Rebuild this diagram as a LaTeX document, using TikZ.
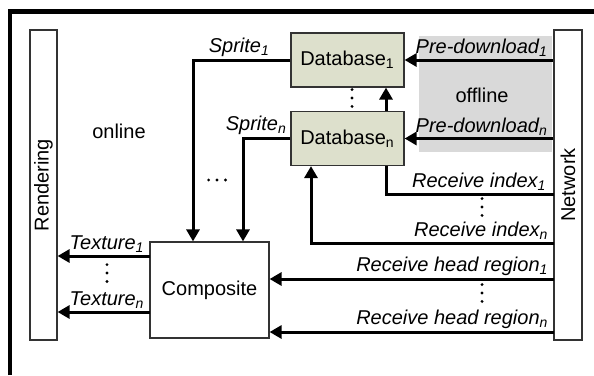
\documentclass[tikz,border=0pt]{standalone}
\usepackage{fontspec}
\setmainfont{Liberation Sans}
\usetikzlibrary{positioning,arrows.meta}
\definecolor{dbfill}{RGB}{221,224,204}
\definecolor{offgray}{RGB}{217,217,217}
\tikzset{
  box/.style={draw=black!80, line width=0.6pt, inner sep=0pt},
  dbbox/.style={box, fill=dbfill, minimum width=56.5pt, minimum height=27pt},
  flow/.style={line width=1.5pt, -{Triangle[length=6pt,width=6.5pt]}},
  wire/.style={line width=1.5pt},
  lbl/.style={font=\itshape, inner sep=1pt, anchor=south east},
}
\begin{document}
\begin{tikzpicture}[x=0.5pt,y=-0.5pt]
  \useasboundingbox (0,0) rectangle (594,375);

  % frame
  \draw[line width=2.2pt] (9.7,375) |- (594,11.3);

  % offline area
  \fill[offgray] (419,36) rectangle (552,152);
  \node (offline) at (482,95) {offline};
  \node (online) at (119,131) {online};

  % side blocks
  \node[box, minimum width=13.5pt, minimum height=155pt] (render) at (43.5,185) {};
  \node[rotate=90] (rendertxt) at (render.center) {Rendering};
  \node[box, minimum width=14pt, minimum height=155pt] (net) at (568,185) {};
  \node[rotate=90] (nettxt) at (net.center) {Network};

  % databases and composite
  \node[dbbox] (db1) at (347.5,60) {Database\textsubscript{1}};
  \node[dbbox] (dbn) at (347.5,138.5) {Database\textsubscript{n}};
  \node[box, minimum width=59.5pt, minimum height=48pt] (comp) at (209.5,290) {Composite};

  % end points on the network / composite side
  \coordinate (ri1) at (554,194);
  \coordinate (rin) at (554,243);
  \coordinate (rh1) at (554,279);
  \coordinate (rhn) at (554,332);
  \coordinate (tx1) at (150,256);
  \coordinate (txn) at (150,312);

  % pre-download
  \draw[flow] (net.west |- db1.east) -- node[lbl, pos=0, xshift=-1pt] {Pre-download\textsubscript{1}} (db1.east);
  \draw[flow] (net.west |- dbn.east) -- node[lbl, pos=0, xshift=-1pt] {Pre-download\textsubscript{n}} (dbn.east);
  \draw[flow] ([xshift=19.25pt]dbn.north) -- ([xshift=19.25pt]db1.south);

  % index
  \draw[wire] ([xshift=19.25pt]dbn.south) |- node[lbl, pos=1, xshift=-2pt] {Receive index\textsubscript{1}} (ri1);
  \draw[flow] (rin) -| node[lbl, pos=0, xshift=-1pt] {Receive index\textsubscript{n}} ([xshift=-18.25pt]dbn.south);

  % head region
  \draw[flow] (rh1) -- node[lbl, pos=0, xshift=-1pt] {Receive head region\textsubscript{1}} (comp.east |- rh1);
  \draw[flow] (rhn) -- node[lbl, pos=0, xshift=-1pt] {Receive head region\textsubscript{n}} (comp.east |- rhn);

  % sprites
  \draw[flow] (db1.west) -| node[lbl, pos=0, xshift=-8.5pt] {Sprite\textsubscript{1}} ([xshift=-8.25pt]comp.north);
  \draw[flow] (dbn.west) -| node[lbl, pos=0] {Sprite\textsubscript{n}} ([xshift=16.75pt]comp.north);

  % textures
  \draw[flow] (tx1) -- node[lbl, pos=0, xshift=-1pt] {Texture\textsubscript{1}} (render.east |- tx1);
  \draw[flow] (txn) -- node[lbl, pos=0, xshift=-1pt] {Texture\textsubscript{n}} (render.east |- txn);

  % dots
  \coordinate (dbdots) at (352,98);
  \coordinate (txdots) at (107,273);
  \coordinate (ridots) at (482,207);
  \coordinate (rhdots) at (482,293);
  \coordinate (spdots) at (217,180);
  \foreach \c in {dbdots,txdots,ridots,rhdots}
    \foreach \k in {-1,0,1}
      \fill ([yshift=\k*4.2pt]\c) circle (0.8pt);
  \foreach \k in {-1,0,1}
    \fill ([xshift=\k*4.2pt]spdots) circle (0.8pt);
\end{tikzpicture}
\end{document}
